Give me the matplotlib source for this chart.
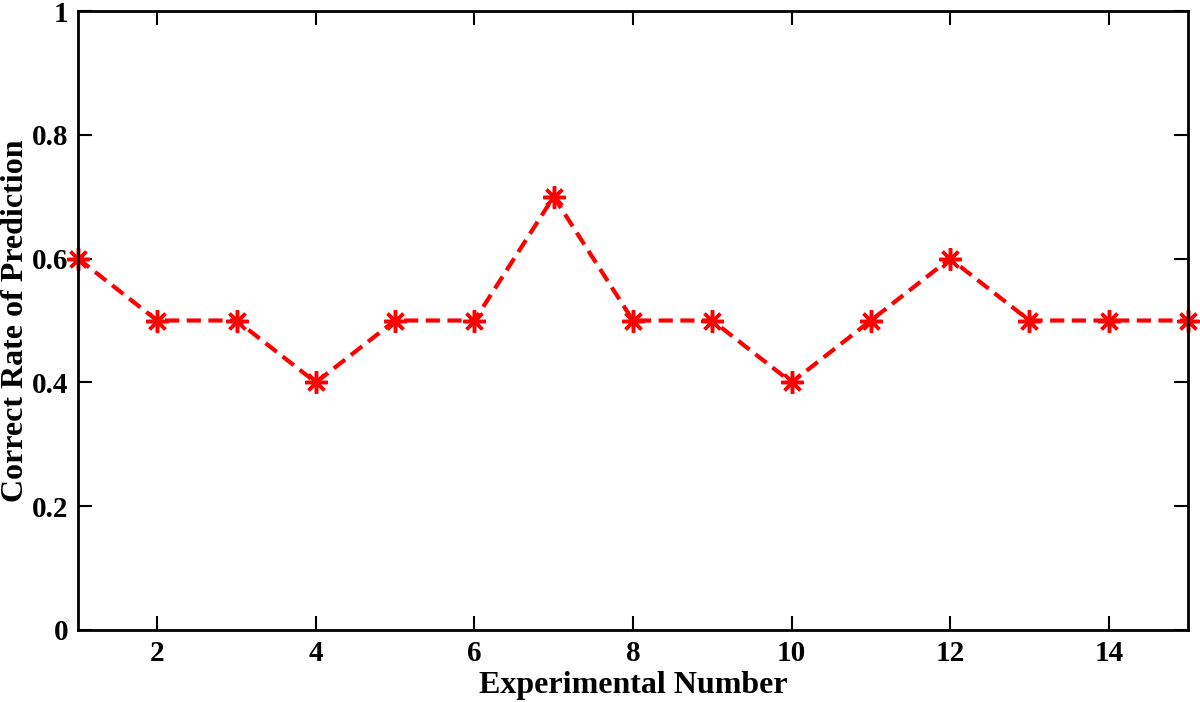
import matplotlib.pyplot as plt

# data
experiment = list(range(1, 16))
correct_rate = [0.6, 0.5, 0.5, 0.4, 0.5, 0.5, 0.7, 0.5, 0.5, 0.4, 0.5, 0.6, 0.5, 0.5, 0.5]
xticks = [2, 4, 6, 8, 10, 12, 14]
yticks = [0, 0.2, 0.4, 0.6, 0.8, 1]
ytick_labels = ['0', '0.2', '0.4', '0.6', '0.8', '1']

plt.rcParams['font.family'] = ['Liberation Serif', 'DejaVu Serif']
plt.rcParams['font.weight'] = 'bold'

fig = plt.figure(figsize=(12, 7.02), dpi=100)
ax = fig.add_axes([78 / 1200, 1 - 630 / 702, (1188 - 78) / 1200, (630 - 11) / 702])

ax.plot(experiment, correct_rate, color='red', linestyle='--', linewidth=3,
        dashes=(3.4, 1.8), marker=(8, 2, 0), markersize=16, markeredgewidth=2.5,
        clip_on=False)

ax.set_xlim(1, 15)
ax.set_ylim(0, 1)
ax.set_xticks(xticks)
ax.set_yticks(yticks)
ax.set_yticklabels(ytick_labels)
ax.tick_params(direction='in', length=10, width=1.5, top=True, right=True,
               labelsize=21, pad=7)
for lbl in ax.get_xticklabels() + ax.get_yticklabels():
    lbl.set_fontweight('bold')
for s in ax.spines.values():
    s.set_linewidth(2)

ax.set_xlabel('Experimental Number', fontsize=23, fontweight='bold', labelpad=3)
ax.set_ylabel('Correct Rate of Prediction', fontsize=23, fontweight='bold', labelpad=1)

fig.savefig('out.png', dpi=100)
